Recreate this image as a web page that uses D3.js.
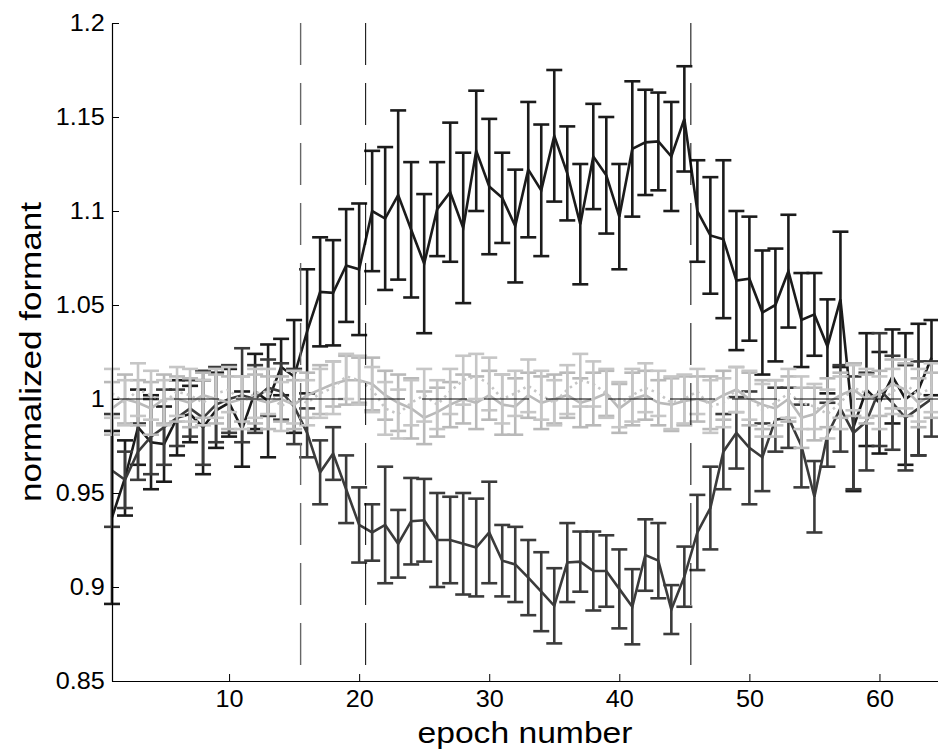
<!DOCTYPE html>
<html>
<head>
<meta charset="utf-8">
<script src="https://cdn.jsdelivr.net/npm/d3@7"></script>
<style>
	body { margin: 0; background: #fff; }
	svg { display: block; }
	text { font-family: "Liberation Sans", Arial, sans-serif; fill: #000; }
</style>
</head>
<body>
<div id="chart"></div>
<script>
// DATA: epochs and per-epoch means / standard errors for each condition
const epochs = d3.range(1, 65);

// shift-up condition (black)
const upMean = [0.937, 0.958, 0.985, 0.977, 0.976, 0.990, 0.992, 0.985, 0.994, 0.998,
	0.984, 1.004, 0.999, 1.017, 1.012, 1.036, 1.057, 1.0565, 1.071, 1.069,
	1.100, 1.096, 1.1085, 1.090, 1.072, 1.101, 1.110, 1.091, 1.132, 1.113,
	1.107, 1.092, 1.122, 1.111, 1.140, 1.120, 1.093, 1.129, 1.119, 1.097,
	1.133, 1.1365, 1.137, 1.129, 1.149, 1.100, 1.087, 1.085, 1.063, 1.064,
	1.046, 1.050, 1.068, 1.042, 1.045, 1.028, 1.053, 0.985, 1.005, 0.998,
	1.012, 1.000, 1.005, 1.022];
const upErr = [0.046, 0.020, 0.020, 0.025, 0.020, 0.020, 0.015, 0.025, 0.020, 0.018,
	0.020, 0.020, 0.030, 0.015, 0.030, 0.033, 0.029, 0.028, 0.030, 0.035,
	0.032, 0.038, 0.045, 0.036, 0.037, 0.025, 0.037, 0.040, 0.032, 0.036,
	0.024, 0.030, 0.036, 0.035, 0.035, 0.025, 0.032, 0.028, 0.031, 0.028,
	0.036, 0.028, 0.026, 0.029, 0.028, 0.027, 0.031, 0.042, 0.037, 0.033,
	0.033, 0.030, 0.030, 0.025, 0.022, 0.025, 0.036, 0.034, 0.030, 0.027,
	0.025, 0.035, 0.035, 0.020];

// shift-down condition (dark grey)
const downMean = [0.962, 0.957, 0.972, 0.980, 0.985, 0.990, 0.995, 0.990, 0.997, 1.000,
	1.002, 1.000, 1.006, 1.004, 0.996, 0.982, 0.961, 0.971, 0.952, 0.933,
	0.929, 0.933, 0.923, 0.935, 0.9355, 0.925, 0.925, 0.923, 0.921, 0.929,
	0.914, 0.912, 0.905, 0.8975, 0.890, 0.913, 0.9135, 0.9085, 0.9085, 0.899,
	0.8895, 0.917, 0.914, 0.888, 0.9055, 0.929, 0.942, 0.972, 0.982, 0.974,
	0.969, 0.989, 0.990, 0.975, 0.948, 0.981, 0.995, 0.982, 0.988, 1.005,
	0.998, 0.990, 0.995, 1.000];
const downErr = [0.030, 0.015, 0.015, 0.020, 0.020, 0.015, 0.015, 0.025, 0.020, 0.018,
	0.025, 0.018, 0.015, 0.015, 0.020, 0.013, 0.017, 0.014, 0.018, 0.020,
	0.015, 0.031, 0.018, 0.023, 0.022, 0.025, 0.023, 0.027, 0.026, 0.027,
	0.019, 0.020, 0.020, 0.021, 0.020, 0.021, 0.016, 0.021, 0.019, 0.021,
	0.020, 0.019, 0.020, 0.013, 0.016, 0.020, 0.022, 0.020, 0.019, 0.030,
	0.018, 0.017, 0.016, 0.022, 0.019, 0.017, 0.023, 0.030, 0.026, 0.030,
	0.025, 0.028, 0.025, 0.020];

// control conditions (light grey, solid and dotted)
const ctrlAMean = [0.995, 1.000, 0.998, 0.995, 1.000, 1.000, 0.998, 1.002, 1.000, 0.998,
	1.000, 1.000, 0.998, 1.000, 0.997, 1.002, 1.005, 1.008, 1.010, 1.010,
	1.008, 1.002, 0.998, 0.995, 0.990, 0.993, 0.997, 1.000, 0.998, 1.002,
	0.997, 0.996, 1.002, 0.998, 1.000, 1.002, 0.998, 1.000, 1.003, 0.995,
	1.000, 1.002, 0.998, 0.997, 0.999, 1.000, 0.998, 1.002, 1.005, 1.000,
	0.997, 0.995, 1.000, 0.990, 0.992, 0.998, 1.002, 1.005, 1.000, 1.003,
	1.008, 1.005, 0.998, 1.002];
const ctrlAErr = [0.014, 0.013, 0.012, 0.014, 0.013, 0.012, 0.013, 0.012, 0.013, 0.014,
	0.012, 0.013, 0.014, 0.012, 0.013, 0.012, 0.013, 0.012, 0.013, 0.012,
	0.014, 0.013, 0.015, 0.016, 0.014, 0.013, 0.012, 0.013, 0.014, 0.013,
	0.016, 0.015, 0.012, 0.014, 0.013, 0.012, 0.013, 0.014, 0.012, 0.013,
	0.014, 0.013, 0.012, 0.014, 0.013, 0.012, 0.014, 0.013, 0.012, 0.014,
	0.013, 0.015, 0.012, 0.016, 0.014, 0.013, 0.012, 0.014, 0.013, 0.012,
	0.013, 0.014, 0.013, 0.012];
const ctrlBMean = [1.003, 0.998, 1.005, 1.002, 0.998, 1.004, 1.002, 0.998, 1.003, 1.005,
	0.998, 1.003, 1.004, 0.996, 1.001, 0.998, 1.003, 1.006, 1.012, 1.010,
	1.005, 0.995, 0.992, 0.998, 1.002, 0.997, 1.004, 1.010, 1.012, 1.008,
	1.000, 1.003, 1.007, 1.002, 0.998, 1.005, 1.010, 1.008, 1.003, 0.997,
	1.002, 1.006, 1.003, 0.998, 1.000, 1.004, 0.996, 0.998, 1.005, 1.002,
	0.994, 0.998, 1.003, 0.998, 0.996, 0.992, 0.998, 1.006, 1.003, 0.998,
	1.004, 1.008, 1.002, 1.006];
const ctrlBErr = [0.013, 0.012, 0.014, 0.013, 0.012, 0.013, 0.014, 0.012, 0.013, 0.012,
	0.014, 0.013, 0.012, 0.013, 0.014, 0.012, 0.013, 0.014, 0.012, 0.013,
	0.012, 0.014, 0.013, 0.012, 0.014, 0.013, 0.012, 0.013, 0.012, 0.014,
	0.013, 0.012, 0.014, 0.013, 0.012, 0.013, 0.014, 0.012, 0.013, 0.012,
	0.014, 0.013, 0.012, 0.014, 0.013, 0.012, 0.014, 0.013, 0.012, 0.013,
	0.014, 0.012, 0.013, 0.014, 0.012, 0.013, 0.014, 0.012, 0.013, 0.014,
	0.012, 0.013, 0.014, 0.013];

// axis ticks and phase boundaries (dashed verticals)
const xTicks = [10, 20, 30, 40, 50, 60];
const yTicks = [0.85, 0.9, 0.95, 1, 1.05, 1.1, 1.15, 1.2];
const phaseBounds = [15.5, 20.5, 45.5];


// SVG DIMENSIONS
const width = 938;
const height = 749;
const margin = { top: 23, right: 0, bottom: 68, left: 112 };

const svg = d3.select("#chart")
	.append("svg")
	.attr("width", width)
	.attr("height", height);

// SCALES
const x = d3.scaleLinear()
	.domain([1, 64.5])
	.range([margin.left, width - margin.right]);
const y = d3.scaleLinear()
	.domain([0.85, 1.2])
	.range([height - margin.bottom, margin.top]);


// series drawing: error bars then the mean line
const capHalf = 8;
function drawSeries(mean, err, color, dash) {
	const g = svg.append("g");
	const rows = epochs.map((e, i) => ({ e, m: mean[i], s: err[i] }));

	const bars = g.selectAll("g.bar")
		.data(rows)
		.enter()
		.append("g")
			.attr("class", "bar")
			.attr("stroke", color)
			.attr("stroke-width", 2.6);
	bars.append("line")
		.attr("x1", d => x(d.e)).attr("x2", d => x(d.e))
		.attr("y1", d => y(d.m - d.s)).attr("y2", d => y(d.m + d.s));
	bars.append("line")
		.attr("x1", d => x(d.e) - capHalf).attr("x2", d => x(d.e) + capHalf)
		.attr("y1", d => y(d.m + d.s)).attr("y2", d => y(d.m + d.s));
	bars.append("line")
		.attr("x1", d => x(d.e) - capHalf).attr("x2", d => x(d.e) + capHalf)
		.attr("y1", d => y(d.m - d.s)).attr("y2", d => y(d.m - d.s));

	g.append("path")
		.datum(rows)
		.attr("fill", "none")
		.attr("stroke", color)
		.attr("stroke-width", 2.6)
		.attr("stroke-linejoin", "miter")
		.attr("stroke-dasharray", dash)
		.attr("d", d3.line().x(d => x(d.e)).y(d => y(d.m)));
}

// DRAW
drawSeries(upMean, upErr, "#1b1b1b", null);
drawSeries(downMean, downErr, "#3b3b3b", null);
drawSeries(ctrlAMean, ctrlAErr, "#b9b9b9", null);
drawSeries(ctrlBMean, ctrlBErr, "#c6c6c6", "2.5,4");

// reference line at 1 and phase boundaries
svg.append("line")
	.attr("x1", x(1)).attr("x2", width)
	.attr("y1", y(1)).attr("y2", y(1))
	.attr("stroke", "#000")
	.attr("stroke-width", 1)
	.attr("stroke-dasharray", "45,17");
svg.selectAll("line.phase")
	.data(phaseBounds)
	.enter()
	.append("line")
		.attr("class", "phase")
		.attr("x1", d => x(d)).attr("x2", d => x(d))
		.attr("y1", y(1.2)).attr("y2", y(0.85))
		.attr("stroke", (d, i) => i === 0 ? "#666" : "#000")
		.attr("stroke-width", (d, i) => i === 0 ? 1.4 : 1)
		.attr("stroke-dasharray", "42,18");


// AXES (matlab style: ticks inside, no box)
const xAxis = d3.axisBottom(x)
	.tickValues(xTicks)
	.tickSizeInner(-7)
	.tickSizeOuter(0)
	.tickPadding(9)
	.tickFormat(d3.format("d"));
const yAxis = d3.axisLeft(y)
	.tickValues(yTicks)
	.tickSizeInner(-7)
	.tickSizeOuter(0)
	.tickPadding(7)
	.tickFormat(d => String(d));

const gx = svg.append("g")
	.attr("transform", `translate(0,${height - margin.bottom})`)
	.call(xAxis);
const gy = svg.append("g")
	.attr("transform", `translate(${margin.left},0)`)
	.call(yAxis);

[gx, gy].forEach(g => {
	g.select(".domain").attr("stroke", "#000").attr("stroke-width", 1.2);
	g.selectAll(".tick line").attr("stroke", "#000").attr("stroke-width", 1);
	g.selectAll(".tick text")
		.attr("font-family", "Liberation Sans, Arial, sans-serif")
		.attr("font-size", 24)
		.attr("fill", "#000")
		.attr("transform", "scale(1.05,1)");
});
gx.selectAll(".tick text").attr("dy", "0.71em").attr("y", 9);

// axis titles, stretched to the widths seen in the figure
svg.append("text")
	.attr("x", (margin.left + width) / 2)
	.attr("y", 743)
	.attr("text-anchor", "middle")
	.attr("font-size", 29)
	.attr("textLength", 215)
	.attr("lengthAdjust", "spacingAndGlyphs")
	.text("epoch number");
svg.append("text")
	.attr("transform", `translate(41,${(margin.top + height - margin.bottom) / 2}) rotate(-90)`)
	.attr("text-anchor", "middle")
	.attr("font-size", 29)
	.attr("textLength", 300)
	.attr("lengthAdjust", "spacingAndGlyphs")
	.text("normalized formant");
</script>
</body>
</html>
